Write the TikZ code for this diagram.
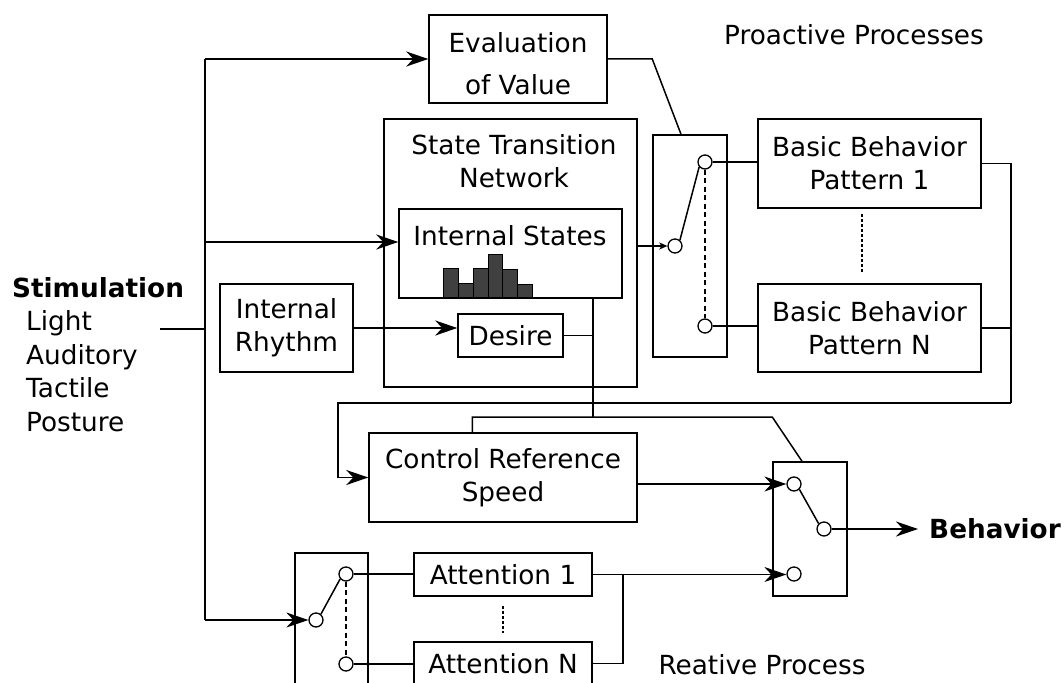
\documentclass[tikz,border=0pt]{standalone}
\usepackage{fontspec}
\setmainfont{DejaVu Sans}
\usetikzlibrary{arrows.meta,calc}
\definecolor{histgray}{HTML}{404040}
\begin{document}
\begin{tikzpicture}[x=1pt,y=-1pt,
  every node/.style={font=\fontsize{26.3}{33}\selectfont},
  box/.style={draw,line width=1.5pt,inner sep=0pt,align=center},
  swbox/.style={draw,line width=1.5pt,inner sep=0pt},
  port/.style={draw,circle,line width=1.3pt,minimum size=14pt,inner sep=0pt,fill=white},
  wire/.style={line width=1.5pt},
  arr/.style={wire,-{Stealth[length=22pt,width=15pt,inset=7pt]}},
  sarr/.style={wire,-{Stealth[length=8pt,width=7pt,inset=2pt]}},
  dashA/.style={line width=1.3pt,dash pattern=on 5pt off 3.5pt},
  dotA/.style={line width=1.3pt,dash pattern=on 3pt off 2pt},
  boldtext/.style={font=\bfseries\fontsize{26.3}{33}\selectfont},
]
\useasboundingbox (0,0) rectangle (1064,682);
\clip (0,0) rectangle (1064,682);

% boxes
\node[box,minimum width=178pt,minimum height=88pt] (eval) at (518,59) {\rule{0pt}{30pt}Evaluation\\[9pt]of Value};
\node[box,minimum width=253pt,minimum height=268pt] (stn) at (510.5,253) {};
\node[align=center] (stnT) at (514,161.5) {State Transition\\Network};
\node[box,minimum width=223pt,minimum height=89pt] (ist) at (510.5,253.5) {};
\node[anchor=base] (istT) at (510,245) {Internal States};
\foreach \x/\t in {443.3/268.3, 458.2/283.3, 473.1/268.3, 488.0/254, 502.9/269, 517.8/284}
  \draw[fill=histgray,line width=1pt] (\x,\t) rectangle ++(14.9,{297.5-\t});
\node[box,minimum width=105pt,minimum height=43pt] (desire) at (510.5,335.5) {Desire};
\node[box,minimum width=133pt,minimum height=88pt] (rhythm) at (286.5,328) {Internal\\Rhythm};
\node[box,minimum width=223pt,minimum height=89pt] (bbp1) at (869.5,163.5) {Basic Behavior\\Pattern 1};
\node[box,minimum width=223pt,minimum height=88pt] (bbpN) at (869.5,328) {Basic Behavior\\Pattern N};
\node[box,minimum width=268pt,minimum height=89pt] (crs) at (503,477.5) {Control Reference\\Speed};
\node[box,minimum width=178pt,minimum height=43pt] (att1) at (503,574.5) {Attention 1};
\node[box,minimum width=178pt,minimum height=43pt] (attN) at (503,663.5) {Attention N};

% switches
\node[swbox,minimum width=74pt,minimum height=222pt] (sw1) at (690,246) {};
\node[swbox,minimum width=74pt,minimum height=134pt] (sw2) at (810,529) {};
\node[swbox,minimum width=73pt,minimum height=160pt] (sw3) at (331.5,633) {};
\node[port] (c1in) at (675,246) {};
\node[port] (c1top) at (705,162) {};
\node[port] (c1bot) at (705,326) {};
\node[port] (c2a) at (794,484) {};
\node[port] (c2out) at (824,529) {};
\node[port] (c2b) at (794,574) {};
\node[port] (c3in) at (316,620) {};
\node[port] (c3top) at (346,574) {};
\node[port] (c3bot) at (346,664) {};

% texts
\node[boldtext,anchor=west,inner sep=0pt] (stim) at (12,287.5) {Stimulation};
\node[anchor=west,inner sep=0pt,align=left,font=\fontsize{26.3}{33.6}\selectfont] (senses) at (26,371) {Light\\Auditory\\Tactile\\Posture};
\node (proact) at (854,35) {Proactive Processes};
\node (react) at (762,665) {Reative Process};
\node[boldtext,anchor=west,inner xsep=11pt,inner ysep=0pt] (beh) at (918,529) {Behavior};

% connectors
\coordinate (bus) at (205,0);
\coordinate (stimout) at (160,329);
\coordinate (istin) at ($(ist.west)+(0,-11.5)$);
\draw[wire] (stimout) -- (stimout -| bus);
\draw[wire] (bus |- eval) -- (bus |- c3in);
\draw[arr] (bus |- eval) -- (eval.west);
\draw[arr] (istin -| bus) -- (istin);
\draw[arr] (bus |- c3in) -- (c3in.west);
\draw[arr] (rhythm.east) -- (rhythm.east -| desire.west);
\draw[sarr] (stn.east |- c1in) -- (c1in.west);
\draw[wire] (eval.east) -- (eval.east -| sw1.west) -- ($(sw1.north)+(-9,0)$);
\draw[wire] (c1in.50) -- (c1top.220);
\draw[dashA] (c1top.south) -- (c1bot.north);
\draw[wire] (c1top.east) -- (c1top.east -| bbp1.west);
\draw[wire] (c1bot.east) -- (c1bot.east -| bbpN.west);
\coordinate (bdA) at (862,214);
\coordinate (bdB) at (862,272);
\draw[dotA] (bdA) -- (bdB);
\coordinate (rbus) at (1011,403);
\coordinate (lx) at (338,0);
\draw[wire] (bbp1.east) -| (rbus);
\draw[wire] (bbpN.east) -- (bbpN.east -| rbus);
\draw[arr] (rbus) -- (rbus -| lx) |- (crs.west);
\coordinate (j) at (593,417);
\draw[wire] (ist.south -| j) -- (j);
\draw[wire] (desire.east) -- (desire.east -| j);
\draw[wire] ($(crs.north west)+(104,0)$) |- (sw2.west |- j) -- ($(sw2.north)+(-8,0)$);
\draw[arr] (crs.east |- c2a) -- (c2a.west);
\draw[arr] (att1.east) -- (att1.east -| c2b.west);
\draw[wire] (c2a.-45) -- (c2out.135);
\draw[arr] (c2out.east) -- (beh.west);
\coordinate (ab) at (623,0);
\draw[wire] (attN.east) -| (ab |- att1.east);
\draw[wire] (c3in.50) -- (c3top.220);
\draw[dashA] (c3top.south) -- (c3bot.north);
\draw[wire] (c3top.east) -- (c3top.east -| att1.west);
\draw[wire] (c3bot.east) -- (c3bot.east -| attN.west);
\coordinate (adA) at (503,606);
\coordinate (adB) at (503,633);
\draw[dotA] (adA) -- (adB);
\end{tikzpicture}
\end{document}
